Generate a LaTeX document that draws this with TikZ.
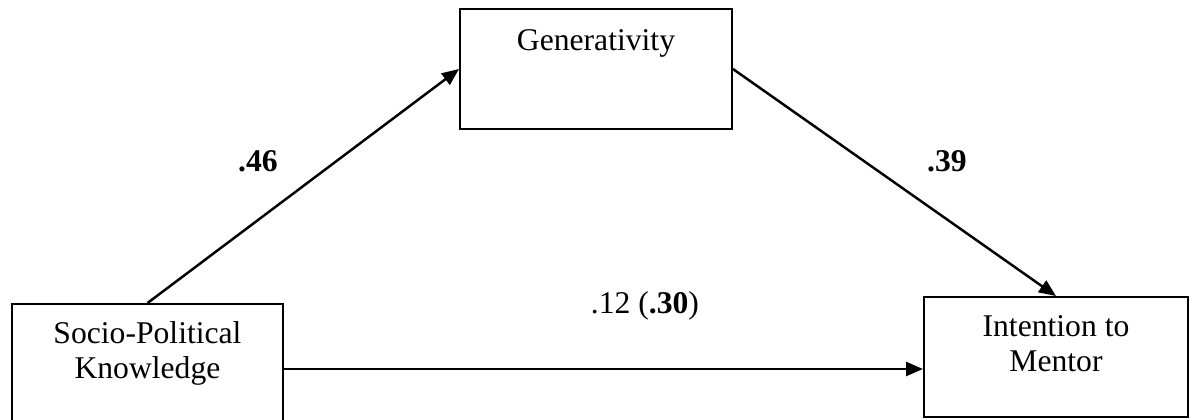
\documentclass[tikz,border=0pt]{standalone}
\usepackage{fontspec}
\setmainfont{Liberation Serif}
\usetikzlibrary{arrows.meta}

\begin{document}
\begin{tikzpicture}[font=\fontsize{18}{20}\selectfont, >={Triangle[length=3.4mm,width=2.8mm]},
  box/.style={draw, line width=1.1pt, minimum height=2.4cm},
  txt/.style={align=center, inner sep=0pt, anchor=north},
  path/.style={->, line width=1.4pt}]
\useasboundingbox (0,0) rectangle (23.8,-8.4);
\node[box, minimum width=5.44cm] (gen) at (11.92,-1.38) {};
\node[box, minimum width=5.42cm, minimum height=2.6cm] (spk) at (2.95,-7.38) {};
\node[box, minimum width=5.28cm] (int) at (21.12,-7.14) {};
\node[txt, yshift=-0.42cm] (gentxt) at (gen.north) {Generativity};
\node[txt, yshift=-0.36cm] (spktxt) at (spk.north) {Socio-Political\\Knowledge};
\node[txt, yshift=-0.38cm] (inttxt) at (int.north) {Intention to\\Mentor};
\draw[path] (spk.north) -- (gen.west);
\draw[path] (gen.east) -- (int.north);
\draw[path] (spk.east) -- (spk.east -| int.west);
\node (a46) at (5.16,-3.22) {\textbf{.46}};
\node (b39) at (18.94,-3.22) {\textbf{.39}};
\node (c12) at (12.9,-6.12) {.12 (\textbf{.30})};
\end{tikzpicture}
\end{document}
